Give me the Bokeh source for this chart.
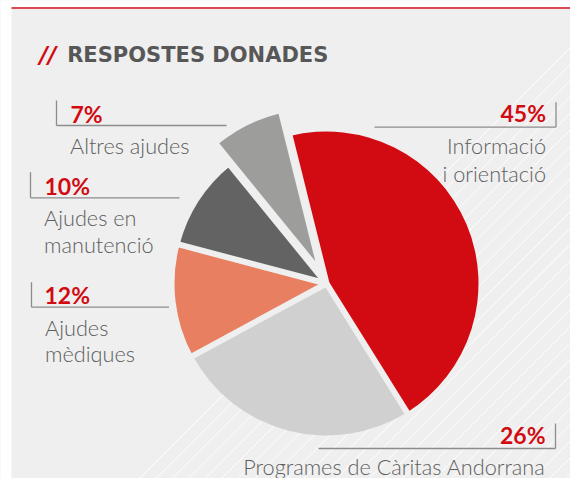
import numpy as np
from bokeh.plotting import figure
from bokeh.models import Range1d, ColumnDataSource
from bokeh.core.properties import value
from bokeh.embed import file_html
from bokeh.resources import INLINE

# ---------------- data ----------------
title_text = "RESPOSTES DONADES"
categories = ["Informació i orientació", "Programes de Càritas Andorrana",
              "Ajudes mèdiques", "Ajudes en manutenció", "Altres ajudes"]
label_lines = [["Informació", "i orientació"], ["Programes de Càritas Andorrana"],
               ["Ajudes", "mèdiques"], ["Ajudes en", "manutenció"], ["Altres ajudes"]]
values = [45, 26, 12, 10, 7]

# ---------------- style / layout ----------------
colors = ["#d20b12", "#d0d0d0", "#e77f60", "#636363", "#9d9d9c"]
BG = "#efefef"
RED = "#d20b12"
TXT = "#5e5e5e"
LEAD = "#8c8c8c"
LABEL_FONT = "Lato Light, Lato"

W, H = 570, 478
def sy(y):               # reference pixel y -> data y
    return 494 - y
TB = 7.0                 # svg alphabetic-baseline correction

CX, CY, R = 326, sy(283), 152
START_DEG = 104
explode = [0, 0, 0, 0, 25]

lab_layout = [
    dict(px=545.5, pb=119.3, align="right", tx=545.5, lb=[152, 180], lead=(555.5, 101.7, 126.7, 374, 555.5)),
    dict(px=545.0, pb=441.5, align="right", tx=545.0, lb=[473], lead=(555.0, 423.0, 448.0, 318, 555.0)),
    dict(px=44.0, pb=301.7, align="left", tx=44.5, lb=[334.3, 360], lead=(31.0, 281.7, 306.7, 31, 168.5)),
    dict(px=44.0, pb=192.7, align="left", tx=43.5, lb=[224, 251], lead=(30.0, 171.7, 197.3, 30, 179)),
    dict(px=70.0, pb=120.5, align="left", tx=69.5, lb=[152], lead=(56.0, 100.0, 125.0, 56, 226)),
]

p = figure(width=W, height=H, x_range=Range1d(0, W), y_range=Range1d(sy(H), sy(0)),
           output_backend="svg", toolbar_location=None, x_axis_type=None, y_axis_type=None,
           min_border=0, background_fill_color=BG, border_fill_color="white")
p.outline_line_color = None
p.grid.visible = False

# white margins, red rule at top
p.quad(left=[0], right=[11], top=[sy(0)], bottom=[sy(H)], color="white", line_color=None)
p.quad(left=[0], right=[W], top=[sy(0)], bottom=[sy(6.5)], color="white", line_color=None)
p.quad(left=[11], right=[W], top=[sy(6.5)], bottom=[sy(8.5)], color="#dc4a52", line_color=None)

# diagonal hatch in lower right
cs = 617 + 16.4 * np.arange(0, 28)
p.segment(x0=cs - 494, y0=np.zeros_like(cs), x1=cs, y1=np.full_like(cs, 494.0),
          line_color="white", line_width=1, line_alpha=0.9)

# ---------------- pie ----------------
vals = np.array(values, dtype=float)
frac = vals / vals.sum()
cum = np.concatenate([[0], np.cumsum(frac)])
ends = np.deg2rad(START_DEG - cum[:-1] * 360)
starts = np.deg2rad(START_DEG - cum[1:] * 360)
mids = (starts + ends) / 2
ex = np.array(explode, dtype=float)
cxs = CX + ex * np.cos(mids)
cys = CY + ex * np.sin(mids)
src = ColumnDataSource(dict(x=cxs, y=cys, s=starts, e=ends, c=colors, cat=categories))
p.wedge(x="x", y="y", radius=R, start_angle="s", end_angle="e", fill_color="c",
        line_color=None, source=src)
bnd = np.deg2rad(START_DEG - cum[:-1] * 360)
p.segment(x0=np.full(len(bnd), CX), y0=np.full(len(bnd), CY),
          x1=CX + (R + 1) * np.cos(bnd), y1=CY + (R + 1) * np.sin(bnd),
          line_color=BG, line_width=6)

# ---------------- title ----------------
p.text(x=[39], y=[sy(61 - TB)], text=["//"], text_font=value("DejaVu Sans"), text_font_size="23px",
       text_font_style="bold italic", text_color=RED, text_baseline="alphabetic", text_align="left")
p.text(x=[66.7], y=[sy(61 - TB)], text=[title_text], text_font=value("DejaVu Sans"), text_font_size="21px",
       text_font_style="bold", text_color="#575757", text_baseline="alphabetic", text_align="left")

# ---------------- labels ----------------
for v, lines, L in zip(values, label_lines, lab_layout):
    p.text(x=[L["px"]], y=[sy(L["pb"] - TB)], text=[f"{v}%"], text_font=value("Lato"),
           text_font_size="23px", text_font_style="bold", text_color=RED,
           text_align=L["align"], text_baseline="alphabetic")
    p.text(x=[L["tx"]] * len(lines), y=[sy(b - TB) for b in L["lb"]], text=lines,
           text_font=value(LABEL_FONT), text_font_size="21.7px", text_color=TXT,
           text_align=L["align"], text_baseline="alphabetic")
    vx, vy0, vy1, hx0, hx1 = L["lead"]
    p.segment(x0=[vx, hx0], y0=[sy(vy0), sy(vy1)], x1=[vx, hx1], y1=[sy(vy1), sy(vy1)],
              line_color=LEAD, line_width=1.3)

open("out.html", "w").write(file_html(p, INLINE))
